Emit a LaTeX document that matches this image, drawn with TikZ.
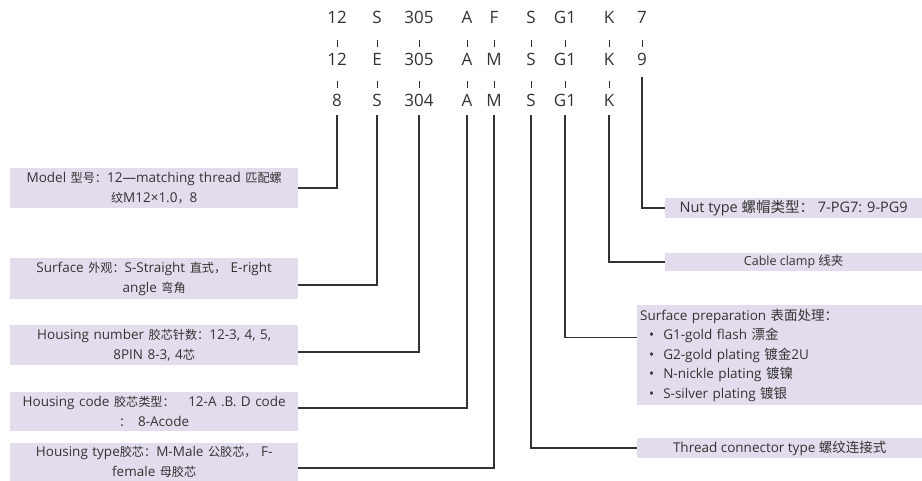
\documentclass[tikz,border=0pt]{standalone}
\usepackage{fontspec}
\setmainfont{Open Sans}
\newfontfamily\cjk{Noto Sans CJK SC}
\newfontfamily\cjksm[Scale=0.9]{Noto Sans CJK SC}
\newcommand{\zh}[1]{{\cjk #1}}
\newcommand{\zhs}[1]{{\cjksm #1}}
\usetikzlibrary{positioning}
\definecolor{boxfill}{HTML}{E3DCEC}
\definecolor{inkgray}{HTML}{333333}

\begin{document}
\begin{tikzpicture}[
        x=1pt, y=-1pt,
        every node/.style={text=inkgray},
        code/.style={font=\fontsize{17}{17}\selectfont, inner sep=0pt, text height=12pt, text depth=0pt},
        infobox/.style={fill=boxfill, inner sep=2pt, align=center, font=\fontsize{13.5}{20}\selectfont},
        leftbox/.style={infobox, anchor=west, minimum width=288pt, text width=284pt},
        tick/.style={draw=inkgray, line width=1pt, shorten <=16pt, shorten >=6pt},
        link/.style={draw=inkgray, line width=1.1pt}
    ]
    \useasboundingbox (0,0) rectangle (922,480);

    % Code rows
    \node[code] (mdlA) at (337,17.5) {12};  \node[code] (srfA) at (377,17.5) {S};
    \node[code] (hnoA) at (419,17.5) {305}; \node[code] (hcdA) at (467,17.5) {A};
    \node[code] (htyA) at (494,17.5) {F};   \node[code] (thrA) at (531,17.5) {S};
    \node[code] (pltA) at (565,17.5) {G1};  \node[code] (clpA) at (609,17.5) {K};
    \node[code] (nutA) at (642,17.5) {7};

    \node[code] (mdlB) at (337,59) {12};  \node[code] (srfB) at (377,59) {E};
    \node[code] (hnoB) at (419,59) {305}; \node[code] (hcdB) at (467,59) {A};
    \node[code] (htyB) at (494,59) {M};   \node[code] (thrB) at (531,59) {S};
    \node[code] (pltB) at (565,59) {G1};  \node[code] (clpB) at (609,59) {K};
    \node[code] (nutB) at (642,59) {9};

    \node[code] (mdlC) at (337,100) {8};   \node[code] (srfC) at (377,100) {S};
    \node[code] (hnoC) at (419,100) {304}; \node[code] (hcdC) at (467,100) {A};
    \node[code] (htyC) at (494,100) {M};   \node[code] (thrC) at (531,100) {S};
    \node[code] (pltC) at (565,100) {G1};  \node[code] (clpC) at (609,100) {K};

    % Ticks between rows
    \draw[tick] (mdlA.south) -- (mdlB.north); \draw[tick] (mdlB.south) -- (mdlC.north);
    \draw[tick] (srfA.south) -- (srfB.north); \draw[tick] (srfB.south) -- (srfC.north);
    \draw[tick] (hnoA.south) -- (hnoB.north); \draw[tick] (hnoB.south) -- (hnoC.north);
    \draw[tick] (hcdA.south) -- (hcdB.north); \draw[tick] (hcdB.south) -- (hcdC.north);
    \draw[tick] (htyA.south) -- (htyB.north); \draw[tick] (htyB.south) -- (htyC.north);
    \draw[tick] (thrA.south) -- (thrB.north); \draw[tick] (thrB.south) -- (thrC.north);
    \draw[tick] (pltA.south) -- (pltB.north); \draw[tick] (pltB.south) -- (pltC.north);
    \draw[tick] (clpA.south) -- (clpB.north); \draw[tick] (clpB.south) -- (clpC.north);
    \draw[tick] (nutA.south) -- (nutB.north);

    % Left boxes
    \node[leftbox, minimum height=40pt] (model) at (10,188) {Model \zhs{型号：}12—matching thread \zhs{匹配螺}\\\zhs{纹}M12×1.0\zhs{，}8};
    \node[leftbox, minimum height=41pt] (surface) at (10,278.5) {Surface \zhs{外观：}S-Straight \zhs{直式，} E-right\\angle \zhs{弯角}};
    \node[leftbox, minimum height=40pt] (housnum) at (10,345) {Housing number \zhs{胶芯针数：}12-3, 4, 5,\\8PIN 8-3, 4\zhs{芯}};
    \node[leftbox, minimum height=39pt] (houscode) at (10,411.5) {Housing code \zhs{胶芯类型：}\quad 12-A .B. D code\\\zhs{：}\enspace 8-Acode};
    \node[leftbox, minimum height=38pt] (houstype) at (10,462) {Housing type\zhs{胶芯：}M-Male \zhs{公胶芯，} F-\\female \zhs{母胶芯}};

    % Right boxes
    \node[infobox, anchor=west, minimum width=257pt, minimum height=20pt, font=\fontsize{14.5}{20}\selectfont] (nuttype) at (665,208) {Nut type \zh{螺帽类型：} 7-PG7: 9-PG9};
    \node[infobox, anchor=west, minimum width=257pt, minimum height=18pt, font=\fontsize{12.5}{18}\selectfont] (clamp) at (665,262) {Cable clamp \zh{线夹}};
    \node[infobox, anchor=north west, align=left, minimum width=285pt, minimum height=100pt, text width=279pt, inner sep=3pt, font=\fontsize{13.5}{19.5}\selectfont] (plating) at (637,305) {Surface preparation \zh{表面处理：}\\
        \hspace*{9pt}•\hspace{9pt}G1-gold flash \zh{漂金}\\
        \hspace*{9pt}•\hspace{9pt}G2-gold plating \zh{镀金}2U\\
        \hspace*{9pt}•\hspace{9pt}N-nickle plating \zh{镀镍}\\
        \hspace*{9pt}•\hspace{9pt}S-silver plating \zh{镀银}};
    \node[infobox, anchor=west, minimum width=285pt, minimum height=20pt] (thread) at (637,448) {Thread connector type \zh{螺纹连接式}};

    % Connectors
    \draw[link, shorten <=9pt] (mdlC.south) |- (model.east);
    \draw[link, shorten <=9pt] (srfC.south) |- ([yshift=-6.5pt]surface.east);
    \draw[link, shorten <=9pt] (hnoC.south) |- ([yshift=-7pt]housnum.east);
    \draw[link, shorten <=9pt] (hcdC.south) |- ([yshift=3.5pt]houscode.east);
    \draw[link, shorten <=9pt] (htyC.south) |- ([yshift=-6pt]houstype.east);
    \draw[link, shorten <=9pt] (thrC.south) |- (thread.west);
    \draw[link, shorten <=9pt] (pltC.south) |- ([yshift=18pt]plating.west);
    \draw[link, shorten <=9pt] (clpC.south) |- (clamp.west);
    \draw[link, shorten <=12pt] (nutB.south) |- (nuttype.west);

\end{tikzpicture}
\end{document}
